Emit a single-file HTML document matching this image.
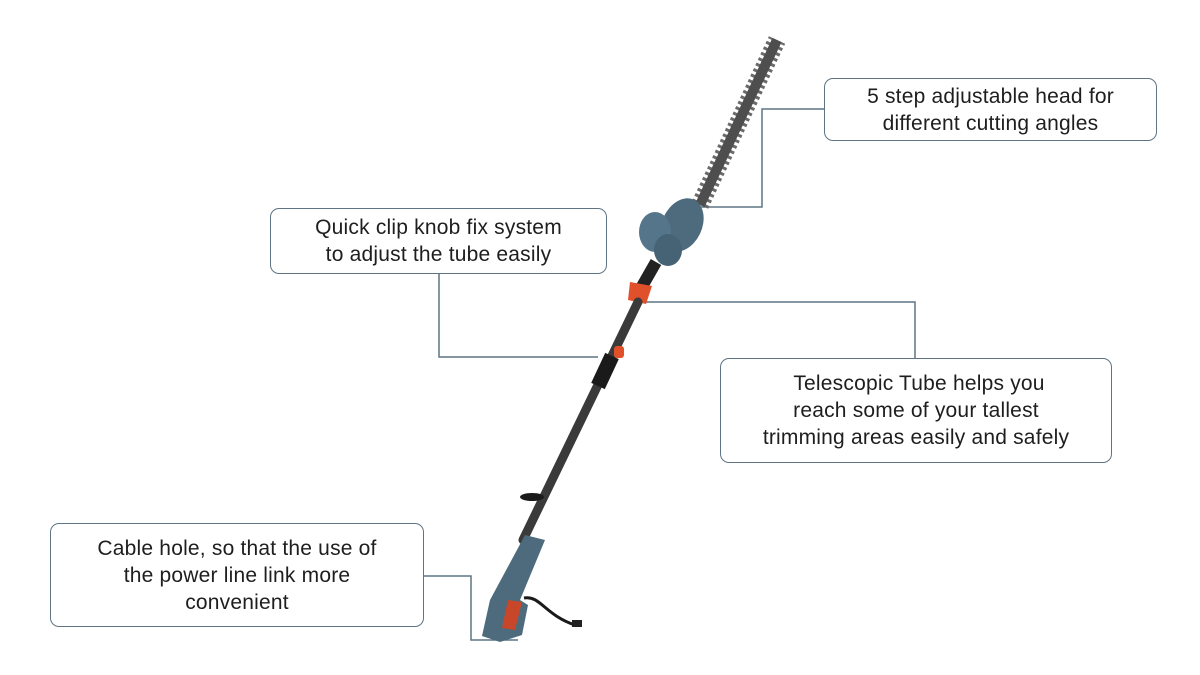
<!DOCTYPE html>
<html><head><meta charset="utf-8"><style>
html,body{margin:0;padding:0;background:#fff;}
body{width:1200px;height:675px;position:relative;overflow:hidden;font-family:"Liberation Sans",sans-serif;}
.box{position:absolute;border:1.5px solid #5f7585;border-radius:9px;box-sizing:border-box;display:flex;align-items:center;justify-content:center;text-align:center;font-size:21px;line-height:27px;color:#1e1e1e;letter-spacing:0.2px;}
svg{position:absolute;left:0;top:0;}
</style></head><body>
<svg width="1200" height="675" viewBox="0 0 1200 675">
<g fill="none" stroke="#5f7585" stroke-width="1.5">
<polyline points="824,109 762,109 762,207 700,207"/>
<polyline points="439,274 439,357 598,357"/>
<polyline points="640,302 915,302 915,358"/>
<polyline points="423,576 471,576 471,640 518,640"/>
</g>
<line x1="700" y1="205" x2="777" y2="40" stroke="#6a6a6a" stroke-width="18" stroke-dasharray="3 3"/>
<line x1="700" y1="205" x2="777" y2="40" stroke="#4e4e4e" stroke-width="10"/>
<ellipse cx="682" cy="225" rx="20" ry="28" transform="rotate(25 682 225)" fill="#4d6b7c"/>
<ellipse cx="655" cy="232" rx="16" ry="20" fill="#55758a"/>
<ellipse cx="668" cy="250" rx="14" ry="16" fill="#456374"/>
<line x1="656" y1="262" x2="640" y2="290" stroke="#222" stroke-width="12"/>
<polygon points="630,282 652,286 646,304 628,300" fill="#e0502a"/>
<line x1="638" y1="302" x2="523" y2="540" stroke="#3a3a3a" stroke-width="9" stroke-linecap="round"/>
<line x1="612" y1="356" x2="598" y2="386" stroke="#1a1a1a" stroke-width="15"/>
<rect x="614" y="346" width="10" height="12" rx="3" fill="#e0502a"/>
<ellipse cx="532" cy="497" rx="12" ry="4" fill="#1a1a1a"/>
<path d="M 525 535 L 545 540 L 520 600 L 528 605 L 522 635 L 500 642 L 482 636 L 490 600 Z" fill="#4d6b7c"/>
<path d="M 508 600 L 522 602 L 515 630 L 502 628 Z" fill="#c8472a"/>
<path d="M 524 598 C 540 595 545 615 575 625" fill="none" stroke="#1a1a1a" stroke-width="3"/>
<rect x="572" y="620" width="10" height="7" fill="#222"/>
</svg>
<div class="box" style="left:824px;top:78px;width:333px;height:63px;">5 step adjustable head for<br>different cutting angles</div>
<div class="box" style="left:270px;top:208px;width:337px;height:66px;">Quick clip knob fix system<br>to adjust the tube easily</div>
<div class="box" style="left:720px;top:358px;width:392px;height:105px;">&nbsp;Telescopic Tube helps you<br>reach some of your tallest<br>trimming areas easily and safely</div>
<div class="box" style="left:50px;top:523px;width:374px;height:104px;">Cable hole, so that the use of<br>the power line link more<br>convenient</div>
</body></html>
